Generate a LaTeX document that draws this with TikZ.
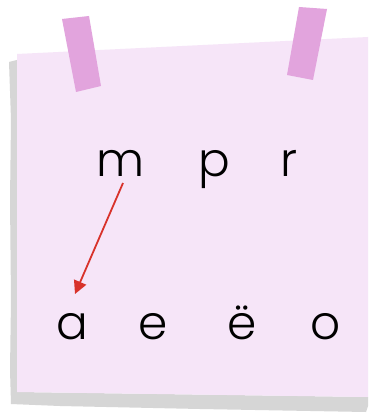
\documentclass[tikz,border=0pt]{standalone}
\usepackage{fontspec}
\setmainfont{Poppins}[UprightFont={* Light}]
\usetikzlibrary{arrows.meta}
\definecolor{paper}{HTML}{F6E5F8}
\definecolor{shadow}{HTML}{D6D6D6}
\definecolor{tape}{HTML}{E2A4DD}
\definecolor{arrowred}{HTML}{D8322B}
\tikzset{
  letter/.style={font=\fontsize{47}{50}\selectfont, text=black, inner sep=0pt, anchor=base},
  link/.style={draw=arrowred, line width=1.8pt, -{Triangle[length=13pt,width=13pt]}},
}
\begin{document}
\begin{tikzpicture}[x=1pt,y=-1pt]
\useasboundingbox (0,0) rectangle (370,414);
\fill[white] (0,0) rectangle (370,414);
% shadow
\fill[shadow] (9,62) -- (17,60) -- (17,392) -- (368,397) -- (368,406) -- (366,412)
  -- (200,409) -- (60,406) -- (11,404) -- (10,370) -- (11,300) -- (10,200) -- (11,120) -- cycle;
% paper
\fill[paper] (17,54) -- (368,37) -- (368,397) -- (17,392) -- cycle;
% tapes
\fill[tape] (62,19) -- (89,16) -- (101,86) -- (76,92) -- cycle;
\fill[tape] (299,7) -- (327,9) -- (313,80) -- (287,75) -- cycle;
% consonants
\node[letter] (m) at (121,176) {m};
\node[letter] (p) at (214,176) {p};
\node[letter] (r) at (289,176) {r};
% vowels
\node[letter] (a) at (72,339) {a};
\node[letter] (e) at (153,339) {e};
\node[letter] (yo) at (242,339) {ë};
\node[letter] (o) at (326,339) {o};
\coordinate (start) at (123,183);
\coordinate (tip) at (75,294);
\draw[link] (start) -- (tip);
\end{tikzpicture}
\end{document}
